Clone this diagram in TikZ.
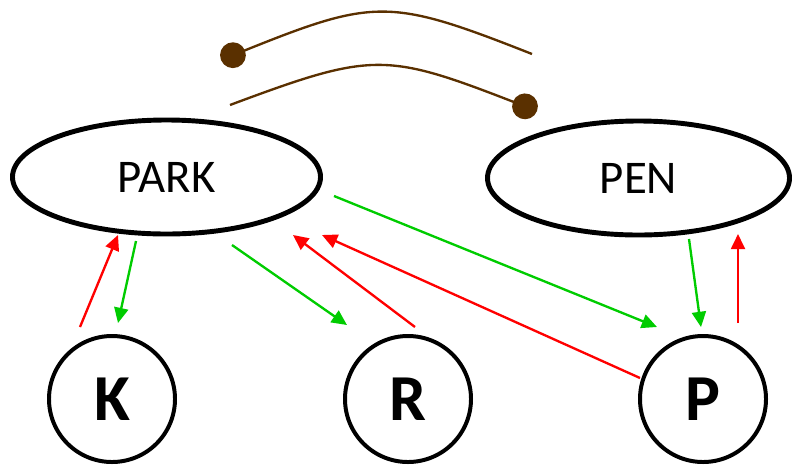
\documentclass[tikz,border=0pt]{standalone}
\usepackage{fontspec}
\setmainfont{Carlito}
\usepackage{tikz}
\usetikzlibrary{arrows.meta,calc,shapes.geometric}
\definecolor{gogreen}{RGB}{0,204,0}
\definecolor{backred}{RGB}{255,0,0}
\definecolor{leash}{RGB}{90,48,0}

\begin{document}
\begin{tikzpicture}[x=0.03cm,y=-0.03cm,
  place/.style={ellipse,draw,line width=4.2pt,minimum width=9.24cm,minimum height=3.42cm,inner sep=0pt,font=\fontsize{40}{48}\selectfont},
  walker/.style={circle,draw,line width=3.4pt,minimum size=3.78cm,inner sep=0pt,font=\bfseries\fontsize{56}{64}\selectfont},
  go/.style={draw=gogreen,line width=2pt,-{Triangle[length=13pt,width=12pt]}},
  back/.style={draw=backred,line width=2pt,-{Triangle[length=13pt,width=12pt]}},
  tie/.style={draw=leash,line width=2pt,{Circle[length=22pt]}-}]
\useasboundingbox (0,0) rectangle (792,467);
\node[place] (park) at (166.5,177) {PARK};
\node[place,minimum width=9.06cm] (pen) at (638.5,178) {PEN};
\node[walker] (k) at (112,399) {K};
\node[walker] (r) at (408,399) {R};
\node[walker] (p) at (703,399) {P};
% leashes
\coordinate (up1) at (221,60);
\coordinate (up2) at (532,54);
\coordinate (lo1) at (230,105);
\coordinate (lo2) at (537,111);
\draw[tie] (up1) .. controls (375,-2) and (390,-2) .. (up2);
\draw[tie] (lo2) .. controls (385,52) and (372,52) .. (lo1);
% K
\draw[back] ($(k)+(-32,-72)$) -- ($(park)+(-48.5,58)$);
\draw[go] ($(park)+(-30.5,64)$) -- ($(k)+(6,-76)$);
% R
\draw[go] ($(park)+(65.5,68)$) -- ($(r)+(-61,-74)$);
\draw[back] ($(r)+(7,-72)$) -- ($(park)+(126.5,58)$);
% P
\draw[back] ($(p)+(-63,-21)$) -- ($(park)+(155.5,58)$);
\draw[go] ($(park)+(167.5,19)$) -- ($(p)+(-46,-72)$);
\draw[go] ($(pen)+(50.5,61)$) -- ($(p)+(-2,-72)$);
\draw[back] ($(p)+(35,-76)$) -- ($(pen)+(99.5,56)$);
\end{tikzpicture}
\end{document}
